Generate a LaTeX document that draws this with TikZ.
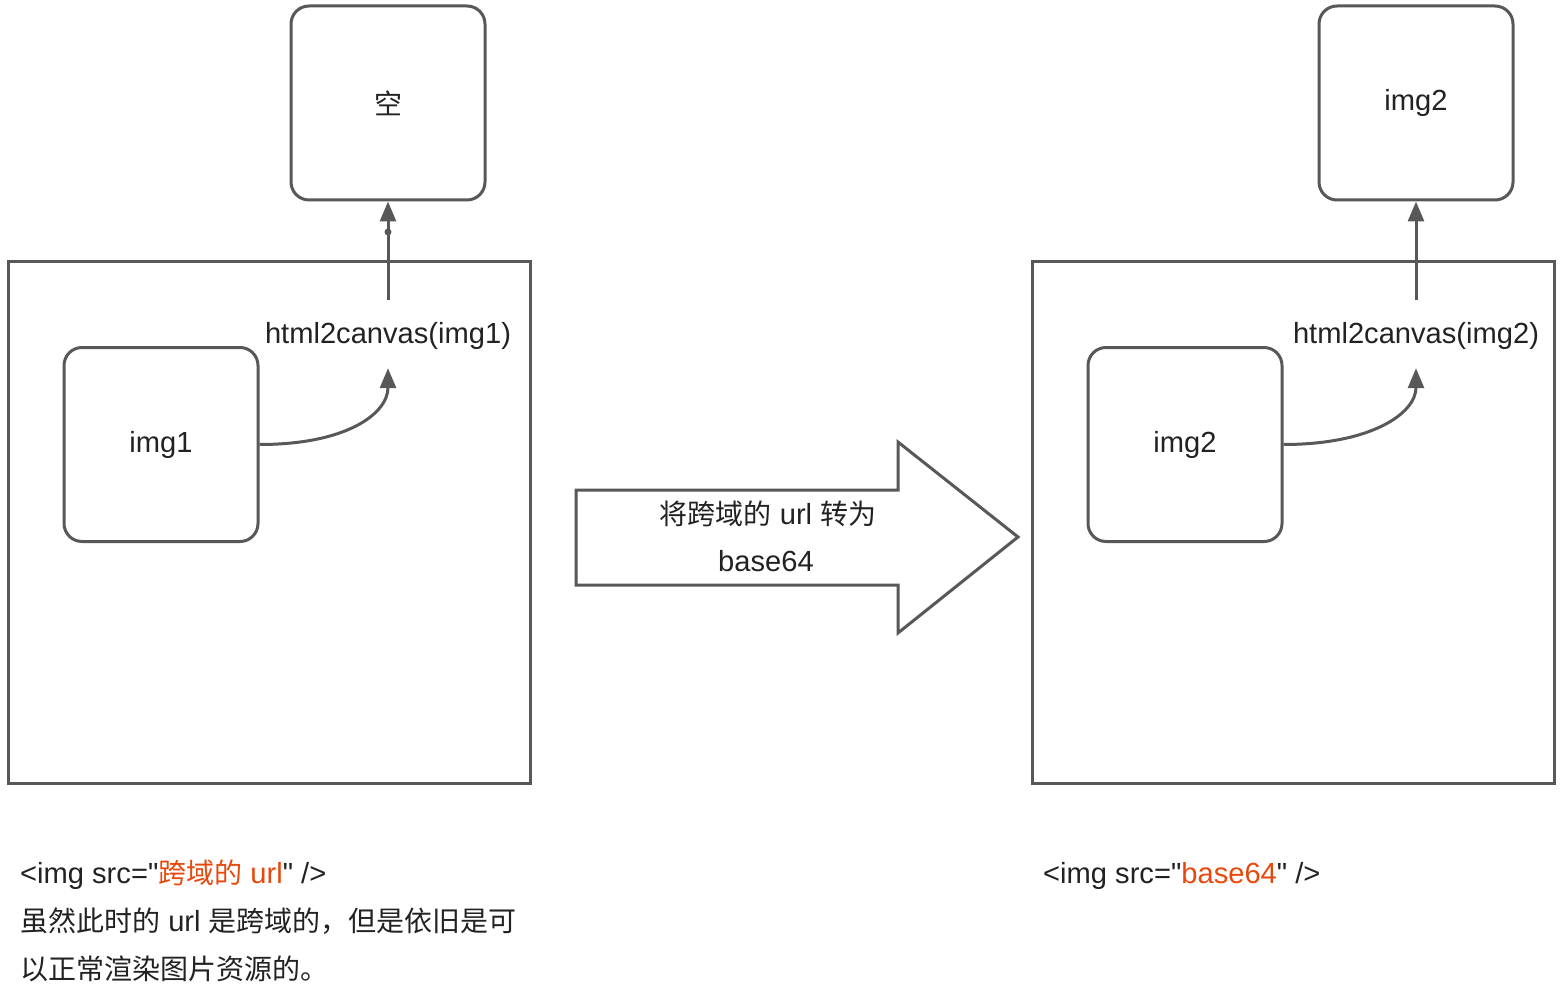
\documentclass[tikz,border=0pt]{standalone}
\usepackage{fontspec}
\newfontfamily\lat{Liberation Sans}[Scale=1.04]
\newfontfamily\cjk{Noto Sans CJK SC}
\usetikzlibrary{arrows.meta}
\definecolor{stroke}{RGB}{88,88,88}
\definecolor{txt}{RGB}{34,34,34}
\definecolor{hl}{RGB}{232,72,12}
\begin{document}
\begin{tikzpicture}[x=1pt,y=-1pt,
  every node/.style={font=\lat\fontsize{28}{48}\selectfont, text=txt},
  rbox/.style={draw=stroke, line width=3pt, rounded corners=18pt, minimum width=194pt, minimum height=194pt, inner sep=0pt},
  frame/.style={draw=stroke, line width=3pt, minimum width=522pt, minimum height=521pt, inner sep=0pt},
  lbl/.style={inner sep=0pt, text height=20pt, text depth=6pt, anchor=base},
  note/.style={inner sep=0pt, anchor=base west},
  arr/.style={draw=stroke, line width=3pt, -{Triangle[length=20pt,width=16pt]}},
  waypoint/.style={circle, fill=stroke, inner sep=0pt, minimum size=7pt},
  bigarrow/.style={draw=stroke, line width=3pt, fill=white}]
\useasboundingbox (0,0) rectangle (1566,1008);

% frames
\node[frame] (lf) at (269,522.5) {};
\node[frame] (rf) at (1293,522.5) {};

% top result boxes
\node[rbox] (empty) at (388,103) {\cjk 空};
\node[rbox] (res2) at (1416,103) {img2};

% image boxes
\node[rbox] (img1) at (161,444.5) {img1};
\node[rbox] (img2) at (1185,444.5) {img2};

% html2canvas labels
\node[lbl] (h1) at (388,343) {html2canvas(img1)};
\node[lbl] (h2) at (1416,343) {html2canvas(img2)};

% arrows
\draw[arr] ([yshift=23pt]h1.north) -- (empty.south) node[pos=0.69, waypoint] {};
\draw[arr] ([yshift=23pt]h2.north) -- (res2.south);
\draw[arr] (img1.east) .. controls +(88,0) and +(0,45) .. ([yshift=-19pt]h1.south);
\draw[arr] (img2.east) .. controls +(88,0) and +(0,45) .. ([yshift=-19pt]h2.south);

% block arrow
\draw[bigarrow] (576,490) -- (898,490) -- (898,442) -- (1018,537) -- (898,633) -- (898,585) -- (576,585) -- cycle;
\node[inner sep=0pt, anchor=base] (conv1) at (768,524) {{\cjk 将跨域的} url {\cjk 转为}};
\node[inner sep=0pt, anchor=base] (conv2) at (766,571) {base64};

% notes
\node[note] (n1) at (20,883) {<img src="{\color{hl}{\cjk 跨域的} url}" />};
\node[note] (n2) at (20,931) {{\cjk 虽然此时的} url {\cjk 是跨域的，但是依旧是可}};
\node[note] (n3) at (20,979) {{\cjk 以正常渲染图片资源的。}};
\node[note] (n4) at (1043,883) {<img src="{\color{hl}base64}" />};
\end{tikzpicture}
\end{document}
